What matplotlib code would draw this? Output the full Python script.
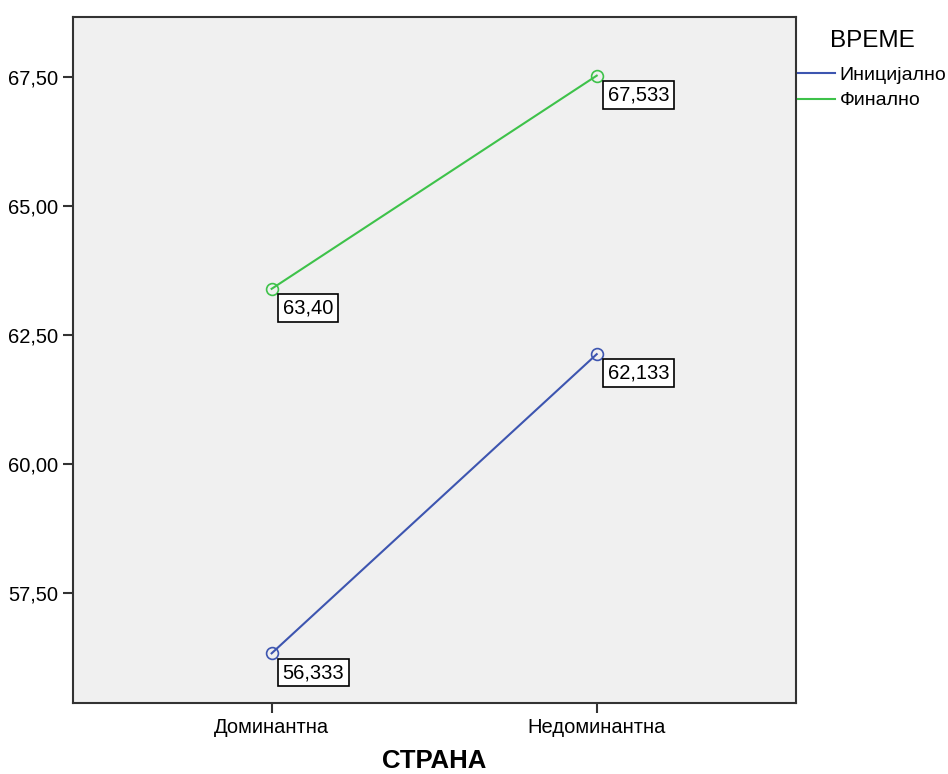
import matplotlib
matplotlib.use("Agg")
import matplotlib.pyplot as plt
from matplotlib.lines import Line2D

plt.rcParams['font.family'] = ['Liberation Sans', 'DejaVu Sans']

categories = ["Доминантна", "Недоминантна"]
series_names = ["Иницијално", "Финално"]
initial = [56.333, 62.133]
final = [63.40, 67.533]
labels_initial = ["56,333", "62,133"]
labels_final = ["63,40", "67,533"]
yticks = [57.5, 60.0, 62.5, 65.0, 67.5]
ytick_labels = ["57,50", "60,00", "62,50", "65,00", "67,50"]

colors = ["#3d55b0", "#3ec24a"]

fig = plt.figure(figsize=(9.48, 7.74), dpi=100)
ax = fig.add_axes([73/948, 1-703/774, (796-73)/948, (703-17)/774])
ax.set_facecolor("#f0f0f0")

x = list(range(len(categories)))
for vals, labs, col in [(initial, labels_initial, colors[0]), (final, labels_final, colors[1])]:
    ax.plot(x, vals, color=col, lw=1.5, marker='o', mfc='none', mec=col, ms=8.5, mew=1.2)
    for xi, v, lab in zip(x, vals, labs):
        ax.annotate(lab, (xi, v), xytext=(8, -7), textcoords='offset points',
                    ha='left', va='top', fontsize=14.5,
                    bbox=dict(boxstyle='square,pad=0.22', fc='white', ec='black', lw=1.2))

ax.set_xlim(-0.611, 1.613)
ax.set_ylim(55.37, 68.67)
ax.set_xticks(x)
ax.set_xticklabels(categories, fontsize=14.5)
ax.set_yticks(yticks)
ax.set_yticklabels(ytick_labels, fontsize=14.5)
ax.tick_params(axis='both', length=7.5, width=1.5, color='#333333', pad=3)
for s in ax.spines.values():
    s.set_linewidth(1.5)
    s.set_color('#333333')
ax.set_xlabel("СТРАНА", fontsize=18.5, fontweight='bold', labelpad=9)

fig.text(872/948, 1-41/774, "ВРЕМЕ", fontsize=17.5, ha='center', va='center')
handles = [Line2D([0], [0], color=c, lw=1.5) for c in colors]
leg = fig.legend(handles, series_names, loc='upper left',
                 bbox_to_anchor=(798/948, 1-66/774), frameon=False,
                 fontsize=14, handlelength=1.9,
                 handletextpad=0.25, labelspacing=0.42, borderaxespad=0, borderpad=0)

fig.savefig("out.png", dpi=100)
